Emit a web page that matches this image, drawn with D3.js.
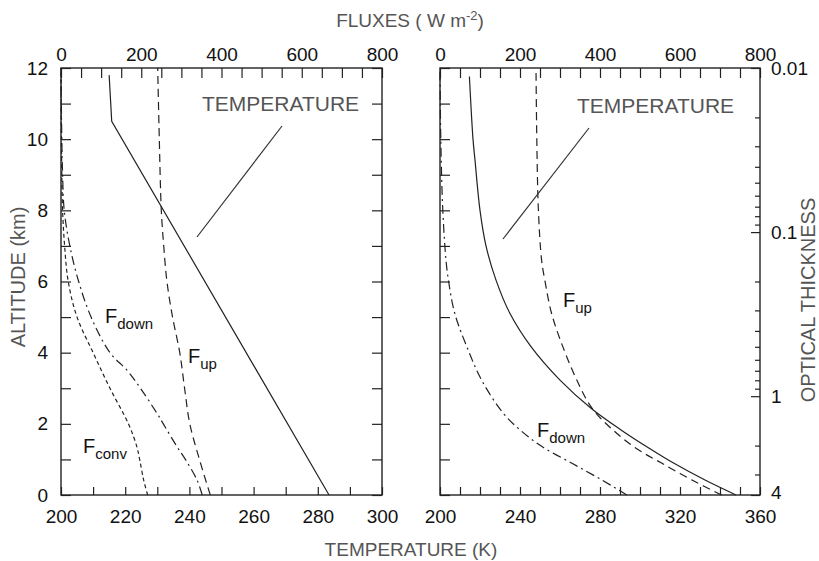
<!DOCTYPE html>
<html>
<head>
<meta charset="utf-8">
<script src="https://cdn.jsdelivr.net/npm/d3@7"></script>
<style>
  body { margin: 0; background: #fff; }
  text { font-family: "Liberation Sans", Arial, sans-serif; }
</style>
</head>
<body>
<div id="chart"></div>
<script>
// altitude (km) sample points and the values read at them
const tempLeftZ = [0, 10.5, 11.8];
const tempLeft = [283.5, 215.8, 215];

const fupLeftZ = [0, 1, 2, 3, 4, 5, 6, 7, 8, 10, 12];
const fupLeft = [372, 345, 321, 308, 296, 278, 264, 256, 250, 245, 241];

const fdownLeftZ = [0, 0.42, 1, 1.36, 2, 2.3, 3, 3.5, 4, 5, 6, 7, 8, 9, 10, 12];
const fdownLeft = [352, 339, 310, 289, 255, 239, 198, 165, 122, 75, 44, 22, 8, 4, 2, 0];

const fconvLeftZ = [0, 0.42, 1, 1.36, 2, 3, 4, 5, 6, 7, 8, 10, 12];
const fconvLeft = [216, 206, 196, 189, 168, 122, 80, 40, 18, 9, 4, 1, 0];

const tempRightZ = [0, 0.42, 0.89, 1.3, 1.83, 2.44, 3.23, 4.17, 5.1, 6.04, 7, 8, 9.41, 10, 11.76];
const tempRight = [348, 332.5, 317, 305, 290.5, 275.5, 260, 245.5, 235, 228, 223, 220, 217.5, 216.5, 214.7];

const fupRightZ = [0, 0.42, 0.89, 1.3, 1.83, 2.44, 3.23, 4.17, 5.1, 6.04, 6.6, 8, 10, 12];
const fupRight = [704, 630, 555, 492, 432, 380, 342, 307, 279, 262, 254, 246, 242, 240];

const fdownRightZ = [0, 0.42, 0.89, 1.36, 1.83, 2.3, 3.23, 4.17, 5.1, 6.04, 6.6, 8, 10, 12];
const fdownRight = [467, 405, 330, 255, 200, 158, 104, 67, 37, 21, 15, 7, 2, 0];

const fluxTicks = d3.range(0, 801, 50);
const altTicks = d3.range(0, 13, 1);
const tempTicksLeft = d3.range(200, 301, 10);
const tempTicksRight = d3.range(200, 361, 10);
const tauMajor = [0.01, 0.1, 1];
const tauMinor = [0.02, 0.03, 0.04, 0.05, 0.06, 0.07, 0.08, 0.09,
                  0.2, 0.3, 0.4, 0.5, 0.6, 0.7, 0.8, 0.9, 2, 3];

const width = 819, height = 561;
const yTop = 68, yBot = 495;
const L = { x0: 61, x1: 382 }, R = { x0: 440, x1: 760 };
const ink = '#222', grey = '#555';

const svg = d3.select('#chart').append('svg')
  .attr('width', width).attr('height', height);

const z = d3.scaleLinear().domain([0, 12]).range([yBot, yTop]);
const tL = d3.scaleLinear().domain([200, 300]).range([L.x0, L.x1]);
const fL = d3.scaleLinear().domain([0, 800]).range([L.x0, L.x1]);
const tR = d3.scaleLinear().domain([200, 360]).range([R.x0, R.x1]);
const fR = d3.scaleLinear().domain([0, 800]).range([R.x0, R.x1]);
const tau = d3.scaleLog().domain([0.01, 4]).range([yTop, yBot]);

function styleAxis(g) {
  g.select('.domain').remove();
  g.selectAll('.tick line').attr('stroke', ink).attr('stroke-width', 1.2);
  g.selectAll('.tick text').attr('fill', '#111').attr('font-size', 19)
    .style('font-family', '"Liberation Sans", Arial, sans-serif');
}

function panelAxes(P, tScale, fScale, tTicks, tLabelStep, leftLabels) {
  svg.append('g').attr('transform', `translate(0,${yTop})`)
    .call(d3.axisTop(fScale).tickValues(fluxTicks).tickSize(-10).tickPadding(7)
      .tickFormat(d => d % 200 === 0 ? d : ''))
    .call(styleAxis);
  svg.append('g').attr('transform', `translate(0,${yBot})`)
    .call(d3.axisBottom(tScale).tickValues(tTicks).tickSize(-8).tickPadding(15)
      .tickFormat(d => (d - 200) % tLabelStep === 0 ? d : ''))
    .call(styleAxis);
  svg.append('g').attr('transform', `translate(${P.x0},0)`)
    .call(d3.axisLeft(z).tickValues(altTicks).tickSize(-10).tickPadding(13)
      .tickFormat(d => leftLabels && d % 2 === 0 ? d : ''))
    .call(styleAxis);
  svg.append('rect').attr('x', P.x0).attr('y', yTop)
    .attr('width', P.x1 - P.x0).attr('height', yBot - yTop)
    .attr('fill', 'none').attr('stroke', ink).attr('stroke-width', 1.4);
}

panelAxes(L, tL, fL, tempTicksLeft, 20, true);
svg.append('g').attr('transform', `translate(${L.x1},0)`)
  .call(d3.axisRight(z).tickValues(altTicks).tickSize(-10).tickFormat(''))
  .call(styleAxis);
panelAxes(R, tR, fR, tempTicksRight, 40, false);

// optical thickness axis
svg.append('g').attr('transform', `translate(${R.x1},0)`)
  .call(d3.axisRight(tau).tickValues(tauMinor).tickSize(-5).tickFormat(''))
  .call(styleAxis);
svg.append('g').attr('transform', `translate(${R.x1},0)`)
  .call(d3.axisRight(tau).tickValues(tauMajor.concat([4])).tickSize(-9)
    .tickFormat(d => d))
  .call(styleAxis)
  .call(g => g.selectAll('.tick text').attr('x', 11))
  .call(g => g.selectAll('.tick').filter(d => d === 4).select('text').attr('y', -3));

// curves
const smooth = d3.line().curve(d3.curveCatmullRom.alpha(0.5));
function curve(zs, vs, xs, dash) {
  svg.append('path')
    .attr('d', smooth(zs.map((d, i) => [xs(vs[i]), z(d)])))
    .attr('fill', 'none').attr('stroke', ink).attr('stroke-width', 1.2)
    .attr('stroke-dasharray', dash);
}
function polyline(zs, vs, xs) {
  svg.append('path')
    .attr('d', d3.line()(zs.map((d, i) => [xs(vs[i]), z(d)])))
    .attr('fill', 'none').attr('stroke', ink).attr('stroke-width', 1.2);
}

polyline(tempLeftZ, tempLeft, tL);
curve(fupLeftZ, fupLeft, fL, '8,5');
curve(fdownLeftZ, fdownLeft, fL, '9,4,2,4');
curve(fconvLeftZ, fconvLeft, fL, '4,3');

curve(tempRightZ, tempRight, tR, null);
curve(fupRightZ, fupRight, fR, '8,5');
curve(fdownRightZ, fdownRight, fR, '9,4,2,4');

// annotations
function pointer(x1, y1, x2, y2) {
  svg.append('line').attr('x1', x1).attr('y1', y1).attr('x2', x2).attr('y2', y2)
    .attr('stroke', '#333').attr('stroke-width', 1.2);
}
svg.append('text').attr('x', 202).attr('y', 111).attr('fill', grey)
  .attr('font-size', 21).text('TEMPERATURE');
pointer(282, 126, 197, 237);
svg.append('text').attr('x', 577).attr('y', 113).attr('fill', grey)
  .attr('font-size', 21).text('TEMPERATURE');
pointer(589, 128, 503, 239);

function fluxLabel(x, y, sub) {
  const t = svg.append('text').attr('x', x).attr('y', y).attr('fill', '#111')
    .attr('font-size', 20);
  t.append('tspan').text('F');
  t.append('tspan').attr('dy', 6).attr('font-size', 15).text(sub);
}
fluxLabel(105, 323, 'down');
fluxLabel(188, 363, 'up');
fluxLabel(83, 453, 'conv');
fluxLabel(563, 307, 'up');
fluxLabel(537, 437, 'down');

// axis titles
const title = svg.append('text').attr('x', 410).attr('y', 27)
  .attr('text-anchor', 'middle').attr('fill', grey).attr('font-size', 19);
title.append('tspan').text('FLUXES ( W m');
title.append('tspan').attr('dy', -7).attr('font-size', 13).text('-2');
title.append('tspan').attr('dy', 7).text(')');

svg.append('text').attr('x', 411).attr('y', 556).attr('text-anchor', 'middle')
  .attr('fill', grey).attr('font-size', 19).text('TEMPERATURE (K)');

svg.append('text').attr('transform', 'translate(25,277) rotate(-90)')
  .attr('text-anchor', 'middle').attr('fill', grey).attr('font-size', 20)
  .text('ALTITUDE (km)');
svg.append('text').attr('transform', 'translate(815,300) rotate(-90)')
  .attr('text-anchor', 'middle').attr('fill', grey).attr('font-size', 20)
  .text('OPTICAL THICKNESS');
</script>
</body>
</html>
